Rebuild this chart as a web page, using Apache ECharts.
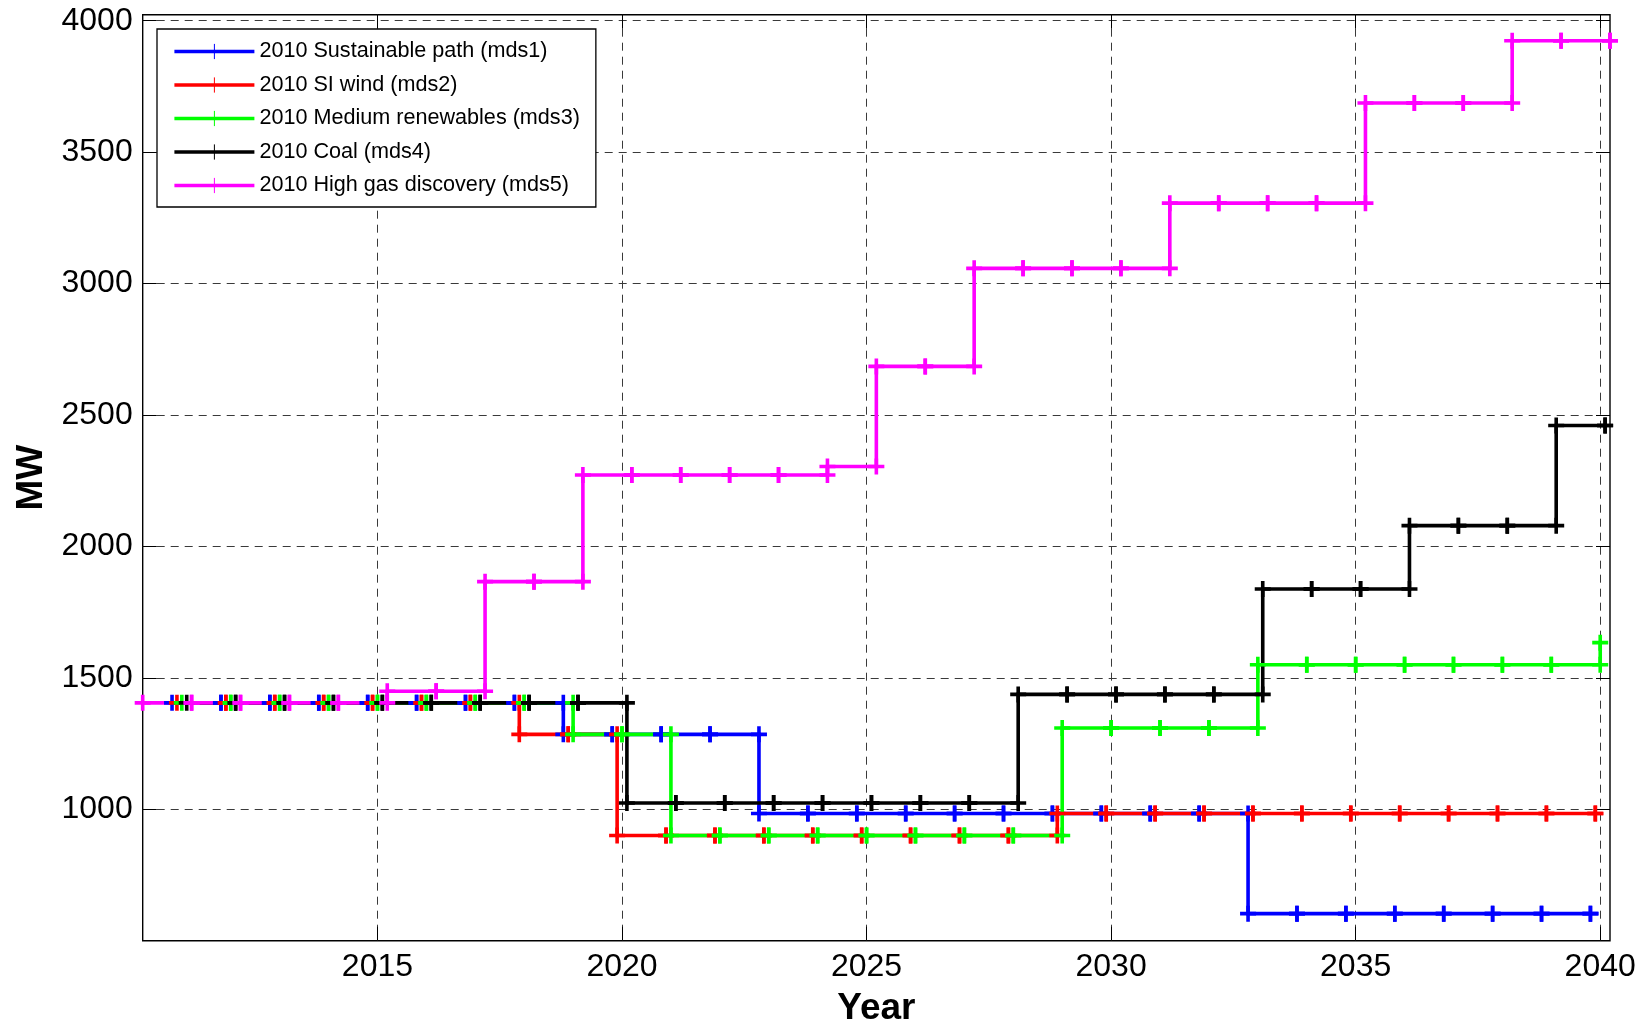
<!DOCTYPE html>
<html>
<head>
<meta charset="utf-8">
<title>Capacity by scenario</title>
<script src="https://cdn.jsdelivr.net/npm/echarts@6.0.0/dist/echarts.min.js"></script>
<style>
  html, body { margin: 0; padding: 0; background: #ffffff; }
  #chart { width: 1652px; height: 1022px; }
</style>
</head>
<body>
<div id="chart"></div>
<script>
// Calendar years that the scenario samples are anchored to
const years = [2010, 2011, 2012, 2013, 2014, 2015, 2016, 2017, 2018, 2019,
               2020, 2021, 2022, 2023, 2024, 2025, 2026, 2027, 2028, 2029,
               2030, 2031, 2032, 2033, 2034, 2035, 2036, 2037, 2038, 2039, 2040];

// Scenario names as shown in the legend
const scenarioNames = [
  '2010 Sustainable path (mds1)',
  '2010 SI wind (mds2)',
  '2010 Medium renewables (mds3)',
  '2010 Coal (mds4)',
  '2010 High gas discovery (mds5)'
];

// Fraction of a year (after the anchor year) at which each scenario is sampled
const sampleOffsets = [0.8, 0.9, 1.0, 1.1, 0.2];

// Capacity in MW, one value per yearly sample
const mds1 = [1405, 1405, 1405, 1405, 1405, 1405, 1405, 1405, 1285, 1285,
              1285, 1285, 984, 984, 984, 984, 984, 984, 984, 984,
              984, 984, 603, 603, 603, 603, 603, 603, 603, 603];
const mds2 = [1405, 1405, 1405, 1405, 1405, 1405, 1405, 1285, 1285, 900,
              900, 900, 900, 900, 900, 900, 900, 900, 984, 984,
              984, 984, 984, 984, 984, 984, 984, 984, 984, 984];
const mds3 = [1405, 1405, 1405, 1405, 1405, 1405, 1405, 1405, 1285, 1285,
              900, 900, 900, 900, 900, 900, 900, 900, 1309, 1309,
              1309, 1309, 1550, 1550, 1550, 1550, 1550, 1550, 1550, 1634];
const mds4 = [1405, 1405, 1405, 1405, 1405, 1405, 1405, 1405, 1405, 1024,
              1024, 1024, 1024, 1024, 1024, 1024, 1024, 1437, 1437, 1437,
              1437, 1437, 1838, 1838, 1838, 2079, 2079, 2079, 2460, 2460];
const mds5 = [1405, 1405, 1405, 1405, 1405, 1449, 1449, 1866, 1866, 2272,
              2272, 2272, 2272, 2272, 2304, 2685, 2685, 3058, 3058, 3058,
              3058, 3306, 3306, 3306, 3306, 3687, 3687, 3687, 3924, 3924, 3924];

// Axis ticks
const yearTicks = [2015, 2020, 2025, 2030, 2035, 2040];
const mwTicks = [1000, 1500, 2000, 2500, 3000, 3500, 4000];

const scenarioValues = [mds1, mds2, mds3, mds4, mds5];
const scenarioColors = ['#0000ff', '#ff0000', '#00ff00', '#000000', '#ff00ff'];

const FONT = '"Liberation Sans", Arial, Helvetica, sans-serif';
const PLUS = 'path://M0,8H16M8,0V16';

// Staircase vertices: the value holds until the next sample, where it jumps
function stairVertices(xs, ys) {
  const pts = [];
  for (let i = 0; i < xs.length; i++) {
    if (i > 0) pts.push([xs[i], ys[i - 1]]);
    pts.push([xs[i], ys[i]]);
  }
  return pts;
}

const series = scenarioValues.map((vals, s) => {
  const xs = vals.map((_, i) => +(years[i] + sampleOffsets[s]).toFixed(3));
  return {
    name: scenarioNames[s],
    type: 'line',
    data: stairVertices(xs, vals),
    symbol: PLUS,
    symbolSize: 16,
    showSymbol: true,
    showAllSymbol: true,
    clip: false,
    silent: true,
    animation: false,
    lineStyle: { color: scenarioColors[s], width: 3.6, join: 'miter' },
    itemStyle: { color: scenarioColors[s], borderColor: scenarioColors[s], borderWidth: 3.6 },
    emphasis: { disabled: true }
  };
});

const gridDash = { color: '#3a3a3a', width: 1, type: [8, 6] };
const tickStyle = { color: '#000', width: 1 };
const plainNumber = v => String(Math.round(v));

const option = {
  backgroundColor: '#ffffff',
  animation: false,
  grid: {
    left: 142.7, right: 42, top: 14.7, bottom: 81.3,
    show: true, borderColor: '#000', borderWidth: 1.4, backgroundColor: '#ffffff',
    containLabel: false, outerBoundsMode: 'none'
  },
  legend: {
    orient: 'vertical',
    left: 157, top: 29,
    padding: [11.5, 16, 10.5, 15.7],
    backgroundColor: '#ffffff', borderColor: '#000', borderWidth: 1.3, borderRadius: 0,
    itemWidth: 80, itemHeight: 19, itemGap: 11.5,
    selectedMode: false,
    itemStyle: { borderWidth: 1 },
    lineStyle: { width: 3.4 },
    textStyle: { fontSize: 21.6, color: '#000', fontFamily: FONT },
    data: scenarioNames
  },
  xAxis: [
    {
      type: 'value', position: 'bottom', min: 2010.2, max: 2040.2,
      axisLine: { show: false },
      axisTick: { show: true, inside: true, length: 14, customValues: yearTicks, lineStyle: tickStyle },
      axisLabel: { customValues: yearTicks, formatter: plainNumber, margin: 10, fontSize: 32, color: '#000', fontFamily: FONT },
      splitLine: { show: true, lineStyle: gridDash },
      name: 'Year', nameLocation: 'middle', nameGap: 50,
      nameTextStyle: { fontSize: 37, fontWeight: 'bold', color: '#000', fontFamily: FONT }
    },
    {
      type: 'value', position: 'top', min: 2010.2, max: 2040.2,
      axisLine: { show: false },
      axisTick: { show: true, inside: true, length: 14, customValues: yearTicks, lineStyle: tickStyle },
      axisLabel: { show: false },
      splitLine: { show: false }
    }
  ],
  yAxis: [
    {
      type: 'value', position: 'left', min: 500, max: 4023, interval: 500,
      axisLine: { show: false },
      axisTick: { show: true, inside: true, length: 14, customValues: mwTicks, lineStyle: tickStyle },
      axisLabel: { customValues: mwTicks, formatter: plainNumber, margin: 10, fontSize: 32, color: '#000', fontFamily: FONT },
      splitLine: { show: true, lineStyle: gridDash },
      name: 'MW', nameLocation: 'middle', nameGap: 92, nameRotate: 90,
      nameTextStyle: { fontSize: 37, fontWeight: 'bold', color: '#000', fontFamily: FONT }
    },
    {
      type: 'value', position: 'right', min: 500, max: 4023, interval: 500,
      axisLine: { show: false },
      axisTick: { show: true, inside: true, length: 14, customValues: mwTicks, lineStyle: tickStyle },
      axisLabel: { show: false },
      splitLine: { show: false }
    }
  ],
  series: series
};

const chart = echarts.init(document.getElementById('chart'), null, { renderer: 'canvas' });
chart.setOption(option);
</script>
</body>
</html>
